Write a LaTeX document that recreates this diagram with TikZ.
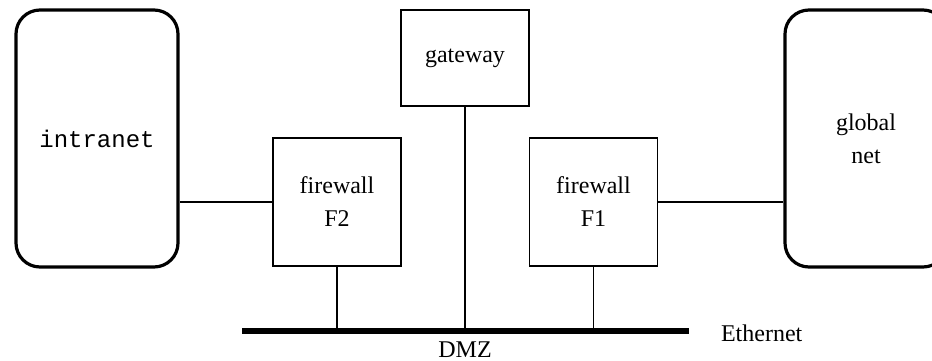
\documentclass[tikz,border=0pt]{standalone}
\usepackage{fontspec}
\setmainfont{Liberation Serif}
\setmonofont{Liberation Mono}
\usepackage{tikz}
\usetikzlibrary{positioning}

\tikzset{
  net/.style={draw, line width=1.6pt, rounded corners=12pt, minimum width=81pt,
    minimum height=128.5pt, inner sep=0pt, align=center},
  host/.style={draw, line width=0.8pt, minimum width=64pt, minimum height=64pt,
    inner sep=0pt, align=center},
  link/.style={line width=0.8pt},
  bus/.style={line width=2.6pt}
}

\begin{document}
\begin{tikzpicture}[x=0.5pt, y=-0.5pt, font=\fontsize{12}{16.5}\selectfont]
      \useasboundingbox (0,0) rectangle (932,360);

      \node [net] (intranet) at (97,138.5) {\texttt{intranet}};
      \node [net] (global) at (866,138.5) {global\\net};
      \node [host, minimum height=48pt] (gateway) at (465,58) {gateway};
      \node [host] (fwtwo) at (337,202) {firewall\\F2};
      \node [host] (fwone) at (593.5,202) {firewall\\F1};

      \coordinate (dmzL) at (242,331);
      \coordinate (dmzR) at (689,331);
      \draw [bus] (dmzL) -- (dmzR);
      \node (dmz) at (465,350) {DMZ};
      \node [right=12.5pt of dmzR, yshift=-1pt] (ether) {Ethernet};

      \draw [link] (fwtwo.west) -- (fwtwo.west -| intranet.east);
      \draw [link] (fwone.east) -- (fwone.east -| global.west);
      \draw [link] (gateway.south) -- (gateway.south |- dmzL);
      \draw [link] (fwtwo.south) -- (fwtwo.south |- dmzL);
      \draw [link] (fwone.south) -- (fwone.south |- dmzL);
    \end{tikzpicture}
\end{document}
